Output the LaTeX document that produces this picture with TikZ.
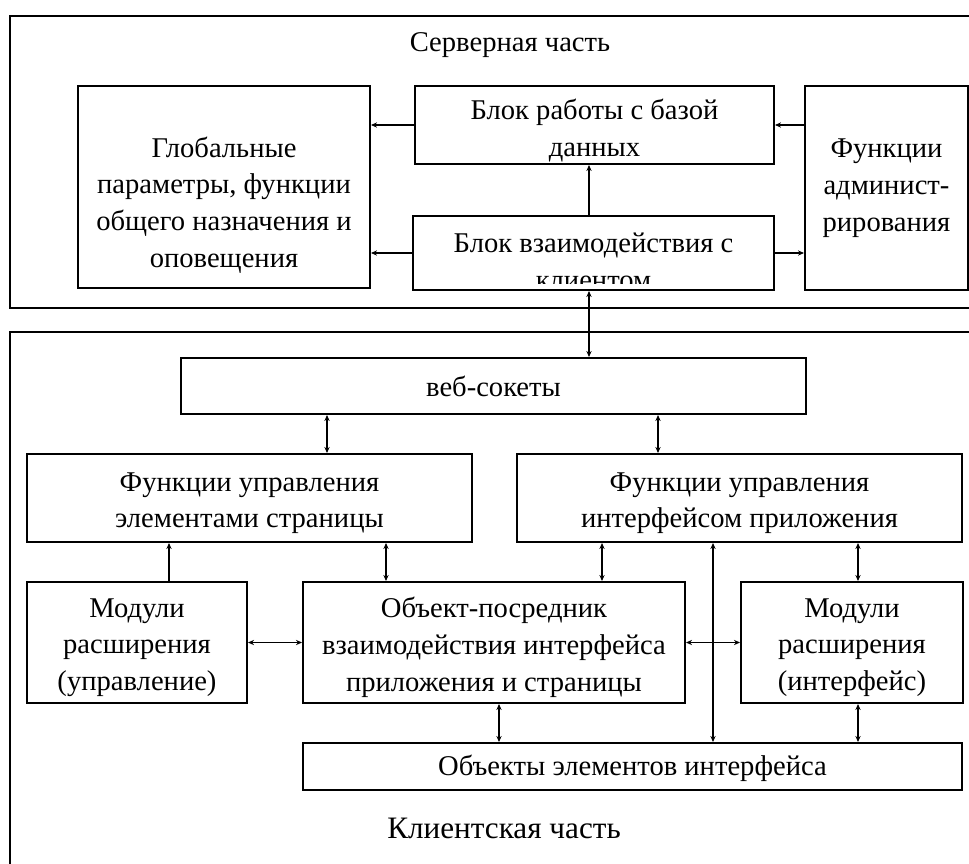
\documentclass[tikz,border=0pt]{standalone}
\usepackage{fontspec}
\setmainfont{Liberation Serif}
\usetikzlibrary{arrows.meta}

\newcommand{\toplift}[1]{\rule{0pt}{#1}}

\tikzset{
  blockbox/.style={draw, line width=1pt, rectangle, align=center, inner sep=0pt},
  partframe/.style={draw, line width=1pt},
  oneway/.style={-{Stealth[length=3pt, width=2.6pt]}, line width=0.65pt},
  twoway/.style={{Stealth[length=3pt, width=2.6pt]}-{Stealth[length=3pt, width=2.6pt]}, line width=0.65pt}
}

\begin{document}
\begin{tikzpicture}[x=0.5pt, y=-0.5pt, font=\fontsize{14.3}{18.4}\selectfont] % 1 unit = 1 px of the layout
    \clip (0,0) rectangle (969,863);

    % Server part
    \draw[partframe] (10,16) rectangle (1000,308);
    \node (servertitle) at (510,45) {Серверная часть};

    % Global parameters
    \node[blockbox, minimum width=146pt, minimum height=101pt] (global) at (224,187) {};
    \node[align=center] (globaltext) at (224,205) {Глобальные\\параметры, функции\\общего назначения и\\оповещения};

    % Database block
    \node[blockbox, minimum width=179.5pt, minimum height=39pt] (db) at (594.5,125) {\toplift{16pt}Блок работы с базой\\данных};

    % Client interaction block
    \node[blockbox, minimum width=180.5pt, minimum height=37pt] (inter) at (593.5,253) {};
    \begin{scope}
        \clip (413,216) rectangle (774,283);
        \node[align=center] (intertext) at (593.5,261) {Блок взаимодействия с\\клиентом};
    \end{scope}

    % Administration
    \node[blockbox, minimum width=81.5pt, minimum height=102pt] (admin) at (886.5,188) {Функции\\админист-\\рирования};

    % Client part
    \draw[partframe] (10,332) rectangle (1000,900);
    \node[font=\fontsize{15.6}{19}\selectfont] (clienttitle) at (504,828) {Клиентская часть};

    % Web sockets
    \node[blockbox, minimum width=312.5pt, minimum height=28pt] (ws) at (493.5,386) {веб-сокеты};

    % Control functions
    \node[blockbox, minimum width=222.5pt, minimum height=44pt] (page) at (249.5,498) {\toplift{14.5pt}Функции управления\\элементами страницы};
    \node[blockbox, minimum width=222.5pt, minimum height=44pt] (ifc) at (739.5,498) {\toplift{14.5pt}Функции управления\\интерфейсом приложения};

    % Modules and mediator
    \node[blockbox, minimum width=110pt, minimum height=60.5pt] (modc) at (137,642.5) {\toplift{14.5pt}Модули\\расширения\\(управление)};
    \node[blockbox, minimum width=191pt, minimum height=60.5pt] (med) at (494,642.5) {\toplift{15pt}Объект-посредник\\взаимодействия интерфейса\\приложения и страницы};
    \node[blockbox, minimum width=111pt, minimum height=60.5pt] (modi) at (852,642.5) {\toplift{14.5pt}Модули\\расширения\\(интерфейс)};

    % Interface element objects
    \node[blockbox, minimum width=329.5pt, minimum height=23.5pt] (obj) at (632.5,766.5) {\toplift{12pt}Объекты элементов интерфейса};

    % Server arrows
    \draw[oneway] (db.west) -- (db.west -| global.east);
    \draw[oneway] (inter.west) -- (inter.west -| global.east);
    \draw[oneway] (admin.west |- db.east) -- (db.east);
    \draw[oneway] (inter.east) -- (inter.east -| admin.west);
    \draw[oneway] (inter.north -| 589,0) -- (db.south -| 589,0);

    % Server to client
    \draw[twoway] (inter.south -| 589,0) -- (ws.north -| 589,0);

    % Client arrows
    \draw[twoway] (ws.south -| 327,0) -- (page.north -| 327,0);
    \draw[twoway] (ws.south -| 658,0) -- (ifc.north -| 658,0);
    \draw[oneway] (modc.north -| 169,0) -- (page.south -| 169,0);
    \draw[twoway] (page.south -| 386,0) -- (med.north -| 386,0);
    \draw[twoway] (ifc.south -| 602,0) -- (med.north -| 602,0);
    \draw[twoway] (ifc.south -| 713,0) -- (obj.north -| 713,0);
    \draw[twoway] (ifc.south -| 858,0) -- (modi.north -| 858,0);
    \draw[twoway] (modc.east) -- (med.west);
    \draw[twoway] (med.east) -- (modi.west);
    \draw[twoway] (med.south -| 499,0) -- (obj.north -| 499,0);
    \draw[twoway] (modi.south -| 858,0) -- (obj.north -| 858,0);
\end{tikzpicture}
\end{document}
